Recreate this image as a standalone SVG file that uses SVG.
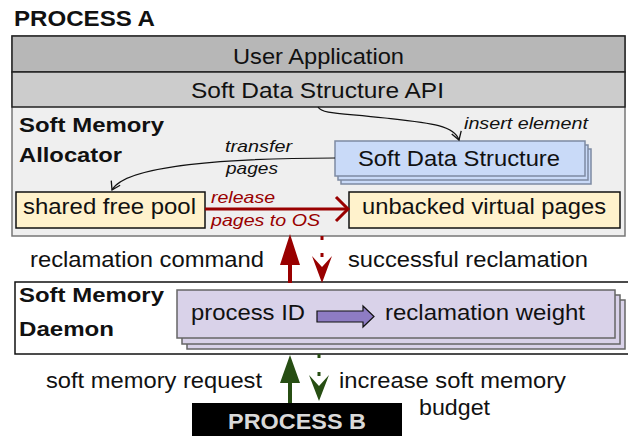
<svg xmlns="http://www.w3.org/2000/svg" width="628" height="436" viewBox="0 0 628 436">
<defs>
<style>
text{font-family:"Liberation Sans",Arial,sans-serif;fill:#111}
.t{font-size:22px}
.b{font-size:21px;font-weight:bold}
.i{font-size:17px;font-style:italic}
.r{fill:#990000}
.sds{fill:#c9daf8;stroke:#7d8aa3;stroke-width:1.5}
.pur{fill:#d9d2e9;stroke:#666;stroke-width:1.5}
.yel{fill:#fff2cc;stroke:#111;stroke-width:1.5}
.thin{fill:none;stroke:#111;stroke-width:1.2}
</style>
<marker id="open" markerUnits="userSpaceOnUse" markerWidth="14" markerHeight="14" refX="10" refY="6" orient="auto">
<path d="M2,1 L10,6 L2,11" fill="none" stroke="#111" stroke-width="1.3"/>
</marker>
</defs>
<text x="14" y="26" class="b" style="font-size:22px" textLength="141" lengthAdjust="spacingAndGlyphs">PROCESS A</text>
<g id="processA">
<rect x="12" y="36" width="613" height="200" fill="#efefef" stroke="#777" stroke-width="1.5"/>
</g>
<g id="userApp">
<rect x="12" y="36" width="613" height="36" fill="#b7b7b7" stroke="#222" stroke-width="1.5"/>
<text x="233" y="64" class="t" textLength="171" lengthAdjust="spacingAndGlyphs">User Application</text>
</g>
<g id="api">
<rect x="12" y="72" width="613" height="35" fill="#cccccc" stroke="#222" stroke-width="1.5"/>
<text x="191" y="98" class="t" textLength="253" lengthAdjust="spacingAndGlyphs">Soft Data Structure API</text>
</g>
<g id="allocatorLabel">
<text x="19" y="132" class="b" textLength="145" lengthAdjust="spacingAndGlyphs">Soft Memory</text>
<text x="19" y="162" class="b" textLength="103" lengthAdjust="spacingAndGlyphs">Allocator</text>
</g>
<g id="softDataStructure">
<rect x="341" y="149" width="250" height="35" class="sds"/>
<rect x="338" y="145" width="250" height="35" class="sds"/>
<rect x="335" y="141" width="250" height="35" class="sds"/>
<text x="358" y="166" class="t" textLength="202" lengthAdjust="spacingAndGlyphs">Soft Data Structure</text>
</g>
<g id="sharedFreePool">
<rect x="16" y="192" width="189" height="36" class="yel"/>
<text x="23" y="214" class="t" textLength="173" lengthAdjust="spacingAndGlyphs">shared free pool</text>
</g>
<g id="unbacked">
<rect x="349" y="192" width="271" height="36" class="yel"/>
<text x="362" y="214" class="t" textLength="244" lengthAdjust="spacingAndGlyphs">unbacked virtual pages</text>
</g>
<g id="daemon">
<rect x="15" y="282" width="620" height="72" fill="#fff" stroke="#111" stroke-width="1.5"/>
<text x="19" y="302" class="b" textLength="145" lengthAdjust="spacingAndGlyphs">Soft Memory</text>
<text x="19" y="336" class="b" textLength="95" lengthAdjust="spacingAndGlyphs">Daemon</text>
</g>
<g id="weightTable">
<rect x="187" y="300" width="438" height="49" class="pur"/>
<rect x="182" y="295" width="438" height="49" class="pur"/>
<rect x="177" y="290" width="438" height="48" class="pur"/>
<text x="191" y="320" class="t" textLength="114" lengthAdjust="spacingAndGlyphs">process ID</text>
<path d="M317,311 L363,311 L363,306 L374,316.5 L363,327 L363,322 L317,322 Z" fill="#8e7cc3" stroke="#111" stroke-width="1.2"/>
<text x="385" y="320" class="t" textLength="200" lengthAdjust="spacingAndGlyphs">reclamation weight</text>
</g>
<g id="processB">
<rect x="192" y="403" width="210" height="40" fill="#000"/>
<text x="228" y="429" class="b" style="fill:#d9d9d9;font-size:22px" textLength="138" lengthAdjust="spacingAndGlyphs">PROCESS B</text>
</g>
<g id="connectors">
<path d="M318,107 C322,114 340,113 385,118 C430,123 454,125 459,140" class="thin" marker-end="url(#open)"/>
<text x="464" y="129" class="i" textLength="124" lengthAdjust="spacingAndGlyphs">insert element</text>
<path d="M335,158 C230,158 125,165 112,190" class="thin" marker-end="url(#open)"/>
<text x="225" y="152" class="i" textLength="67" lengthAdjust="spacingAndGlyphs">transfer</text>
<text x="226" y="174" class="i" textLength="52" lengthAdjust="spacingAndGlyphs">pages</text>
<line x1="205" y1="209" x2="347" y2="209" stroke="#990000" stroke-width="3"/>
<path d="M336,197 L348,209 L336,221" fill="none" stroke="#990000" stroke-width="3"/>
<text x="211" y="203" class="i r" textLength="64" lengthAdjust="spacingAndGlyphs">release</text>
<text x="211" y="226" class="i r" textLength="109" lengthAdjust="spacingAndGlyphs">pages to OS</text>
<path d="M290,234 L300,265 L292,265 L292,283 L288,283 L288,265 L280,265 Z" fill="#990000"/>
<line x1="322" y1="236" x2="322" y2="266" stroke="#990000" stroke-width="3" stroke-dasharray="4 13"/>
<path d="M322,283 L312,256 L322,267 L332,256 Z" fill="#990000"/>
<text x="30" y="267" class="t" textLength="234" lengthAdjust="spacingAndGlyphs">reclamation command</text>
<text x="348" y="267" class="t" textLength="240" lengthAdjust="spacingAndGlyphs">successful reclamation</text>
<path d="M290,355 L300,383 L292,383 L292,403 L288,403 L288,383 L280,383 Z" fill="#274e13"/>
<line x1="319" y1="354" x2="319" y2="385" stroke="#274e13" stroke-width="3" stroke-dasharray="4 14"/>
<path d="M319,401 L309,375 L319,386 L329,375 Z" fill="#274e13"/>
<text x="46" y="388" class="t" textLength="216" lengthAdjust="spacingAndGlyphs">soft memory request</text>
<text x="339" y="388" class="t" textLength="227" lengthAdjust="spacingAndGlyphs">increase soft memory</text>
<text x="419" y="415" class="t" textLength="71" lengthAdjust="spacingAndGlyphs">budget</text>
</g>
</svg>
